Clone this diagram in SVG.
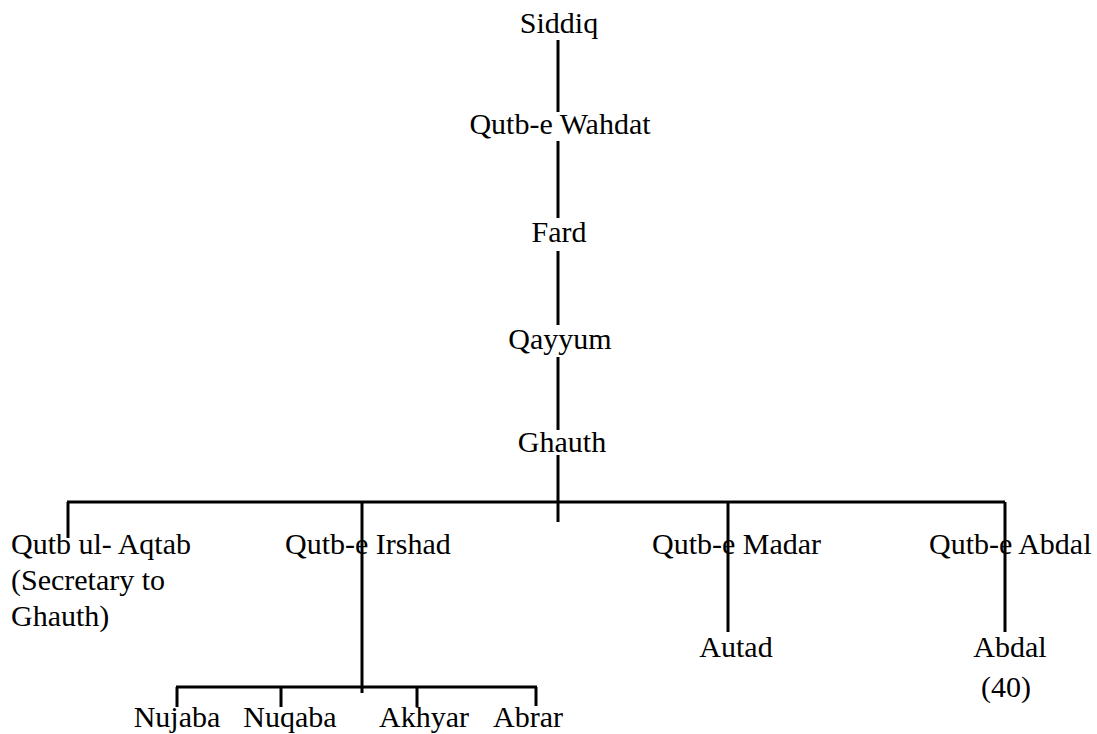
<svg xmlns="http://www.w3.org/2000/svg" width="1097" height="734" viewBox="0 0 1097 734">
<style>
.t{font-family:"Liberation Serif","Times New Roman",serif;font-size:30px;fill:#000}
.m{text-anchor:middle}
.c line{stroke:#000;stroke-width:3;fill:none}
</style>
<rect width="1097" height="734" fill="#fff"/>
<g id="connectors" class="c">
<line x1="558" y1="40" x2="558" y2="112"/>
<line x1="558" y1="141" x2="558" y2="218"/>
<line x1="558" y1="251" x2="558" y2="325"/>
<line x1="558" y1="357" x2="558" y2="430"/>
<line x1="558" y1="455" x2="558" y2="522"/>
<line x1="67" y1="502" x2="1005" y2="502"/>
<line x1="68" y1="502" x2="68" y2="538"/>
<line x1="362" y1="502" x2="362" y2="693"/>
<line x1="728" y1="502" x2="728" y2="632"/>
<line x1="1005" y1="502" x2="1005" y2="632"/>
<line x1="176" y1="687" x2="537" y2="687"/>
<line x1="177" y1="687" x2="177" y2="707"/>
<line x1="281" y1="687" x2="281" y2="707"/>
<line x1="417" y1="687" x2="417" y2="707"/>
<line x1="536" y1="687" x2="536" y2="706"/>
</g>
<g id="siddiq"><text class="t m" x="559" y="33">Siddiq</text></g>
<g id="qutb-e-wahdat"><text class="t m" x="560" y="134">Qutb-e Wahdat</text></g>
<g id="fard"><text class="t m" x="559" y="242">Fard</text></g>
<g id="qayyum"><text class="t m" x="560" y="349">Qayyum</text></g>
<g id="ghauth"><text class="t m" x="562" y="452">Ghauth</text></g>
<g id="qutb-ul-aqtab"><text class="t" x="11" y="554">Qutb ul- Aqtab</text><text class="t" x="11" y="590">(Secretary to</text><text class="t" x="11" y="626">Ghauth)</text></g>
<g id="qutb-e-irshad"><text class="t" x="285" y="554">Qutb-e Irshad</text></g>
<g id="qutb-e-madar"><text class="t" x="652" y="554">Qutb-e Madar</text></g>
<g id="qutb-e-abdal"><text class="t" x="929" y="554">Qutb-e Abdal</text></g>
<g id="autad"><text class="t m" x="736" y="657">Autad</text></g>
<g id="abdal"><text class="t m" x="1010" y="657">Abdal</text><text class="t m" x="1006" y="697">(40)</text></g>
<g id="nujaba"><text class="t m" x="177" y="727">Nujaba</text></g>
<g id="nuqaba"><text class="t m" x="290" y="727">Nuqaba</text></g>
<g id="akhyar"><text class="t m" x="424" y="727">Akhyar</text></g>
<g id="abrar"><text class="t m" x="528" y="727">Abrar</text></g>
</svg>
